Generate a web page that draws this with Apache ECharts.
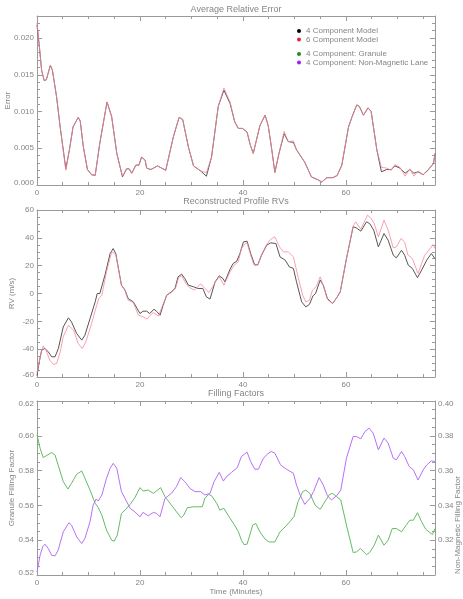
<!DOCTYPE html>
<html><head><meta charset="utf-8">
<script src="https://cdn.jsdelivr.net/npm/echarts@6/dist/echarts.min.js"></script>
<style>html,body{margin:0;padding:0;background:#fff}#c{width:463px;height:599px}</style>
</head><body><div id="c"></div>
<script>
// ---------- DATA ----------
const timeTicks = [0, 20, 40, 60];
const timeMax = 77.3;
const errTicks = [0, 0.005, 0.010, 0.015, 0.020];
const rvTicks = [-60, -40, -20, 0, 20, 40, 60];
const granTicks = [0.52, 0.54, 0.56, 0.58, 0.60, 0.62];
const nonMagTicks = [0.32, 0.34, 0.36, 0.38, 0.40];
const titles = ['Average Relative Error', 'Reconstructed Profile RVs', 'Filling Factors'];
const legendNames = ['4 Component Model', '6 Component Model', '4 Component: Granule', '4 Component: Non-Magnetic Lane'];

const errTime = [0,0.45,0.9,1.4,1.8,2.6,3.0,3.8,4.5,5.6,6.3,7.0,8.0,8.4,9.0,9.8,10.6,11.3,12.2,13.6,14.5,15.5,16.6,17.4,17.9,18.4,19.2,19.8,20.3,21.0,21.3,22.1,23.4,25.0,26.5,27.6,28.3,29.4,30.4,31.8,32.9,33.9,35.2,36.3,37.5,38.4,39.1,39.9,40.8,41.4,42.0,43.3,44.3,44.9,45.6,46.2,47.0,48.0,48.8,49.8,50.4,52.0,53.3,54.6,55.3,56.3,57.5,58.3,59.2,60.5,61.2,62.1,62.6,63.4,64.3,64.9,66.0,66.9,67.9,68.8,69.5,70.5,71.5,72.4,73.2,74.0,75.0,76.0,77.0,77.3];
const err4 = [0.0218,0.0189,0.0156,0.0142,0.0143,0.0163,0.0156,0.0120,0.0079,0.0022,0.0048,0.0079,0.0092,0.0087,0.0052,0.0021,0.0014,0.0013,0.0057,0.0113,0.0093,0.0043,0.0011,0.0022,0.0022,0.0016,0.0027,0.0027,0.0038,0.0034,0.0023,0.0021,0.0026,0.0020,0.0066,0.0092,0.0089,0.0052,0.0026,0.0019,0.0012,0.0038,0.0107,0.0129,0.0111,0.0086,0.0077,0.0077,0.0072,0.0055,0.0043,0.0081,0.0095,0.0081,0.0048,0.0017,0.0043,0.0070,0.0059,0.0058,0.0048,0.0031,0.0011,0.0007,0.0004,0.0010,0.0010,0.0013,0.0027,0.0079,0.0093,0.0109,0.0107,0.0095,0.0105,0.0100,0.0048,0.0018,0.0021,0.0021,0.0026,0.0023,0.0016,0.0021,0.0016,0.0018,0.0014,0.0021,0.0029,0.0043];
const err6 = [0.0221,0.0189,0.0156,0.0142,0.0143,0.0163,0.0156,0.0120,0.0079,0.0020,0.0048,0.0079,0.0092,0.0087,0.0052,0.0021,0.0014,0.0013,0.0057,0.0113,0.0093,0.0043,0.0012,0.0022,0.0022,0.0016,0.0027,0.0027,0.0038,0.0034,0.0023,0.0021,0.0026,0.0020,0.0066,0.0092,0.0089,0.0052,0.0026,0.0019,0.0017,0.0038,0.0107,0.0132,0.0113,0.0086,0.0077,0.0077,0.0072,0.0055,0.0043,0.0081,0.0095,0.0081,0.0048,0.0017,0.0043,0.0073,0.0059,0.0060,0.0048,0.0031,0.0011,0.0007,0.0004,0.0010,0.0010,0.0013,0.0027,0.0079,0.0093,0.0109,0.0107,0.0095,0.0105,0.0100,0.0048,0.0024,0.0023,0.0020,0.0028,0.0024,0.0012,0.0022,0.0012,0.0019,0.0014,0.0020,0.0030,0.0043];

const rvTime4 = [0,0.45,0.9,1.55,2.2,2.85,3.5,4.15,5.1,6.1,6.7,7.7,8.7,9.3,10.3,11.3,11.7,12.2,13.2,14.2,14.8,15.3,16.4,17.1,17.7,18.7,20.0,20.6,21.3,21.9,22.7,23.2,23.9,24.5,25.2,26.1,26.8,27.4,28.1,28.7,29.4,30.4,31.3,32.2,32.9,33.6,34.6,35.4,36.1,36.5,37.5,38.1,38.8,39.4,40.1,40.8,41.5,42.3,42.9,43.6,44.6,45.4,46.4,47.2,48.2,49.0,49.8,50.4,51.4,52.2,52.9,53.6,54.1,55.0,55.6,56.4,57.4,58.2,58.9,60.1,61.4,62.0,62.9,64.0,64.6,65.4,66.3,67.4,68.2,69.2,69.8,70.8,71.4,72.1,72.9,73.9,74.7,75.7,76.6,77.3];
const rv4 = [-59,-49,-40.7,-39.5,-42,-45.5,-45.5,-39.5,-24,-17.5,-20.4,-28.7,-33.5,-30,-18,-6,0,0,13.2,28.7,32.3,28.7,6,2.4,-3.6,-6,-14.4,-12.7,-12.7,-14.4,-11.3,-12.7,-15.6,-8.4,-1.2,1.2,3.6,12,13.9,10.8,6,4.8,3.6,3.6,-2.4,-4,8.4,12.7,10.8,8.4,17.5,21.6,23.2,28.7,37.1,37.6,28.7,20.4,20.8,27.5,34.7,36.4,35.9,26.3,24,19.2,18,8.4,-6,-9.6,-7.9,-1.7,0,9.6,6,-3.6,-7.2,-3.1,1.2,25,47.9,47.2,44.8,51.5,50.3,45.5,33.5,43.1,38.3,27.5,25.6,31.1,27.5,20.4,18,11.3,16.8,24,28.7,25];
const rvTime6 = [0,0.6,1.2,1.75,2.5,3.2,3.8,4.5,5.1,6.1,6.4,7.1,8.0,8.8,9.5,10.6,11.6,12.0,12.6,13.5,14.5,14.8,15.3,16.4,17.1,17.7,18.7,19.7,20.6,21.4,22.0,22.6,23.6,24.2,25.2,26.1,26.9,27.5,28.1,28.9,29.7,30.6,31.8,32.6,33.4,34.1,34.6,35.4,36.3,37.5,38.3,39.1,39.7,40.4,40.8,41.4,42.1,42.9,43.6,44.6,45.4,46.2,47.1,47.9,48.8,49.8,50.7,51.6,52.2,52.9,53.5,54.2,55.0,55.7,56.4,57.4,58.2,58.9,60.1,61.4,61.9,62.9,64.2,64.8,65.5,66.3,67.4,68.2,69.2,69.8,70.7,71.4,72.0,72.9,74.0,75.3,76.1,76.9,77.3];
const rv6 = [-57,-45.5,-37.6,-40.7,-48,-51,-50.3,-42,-31,-22.8,-21.6,-26.3,-36,-39.5,-34.7,-21.6,-8.4,-3.6,-1.2,15.6,30,31,28,6,2,-4.8,-6.5,-15.6,-16.8,-18.4,-15.6,-13.7,-16.3,-10.3,-1.2,0.7,3.6,11.3,12.7,7.2,4.1,2.4,7,3.6,0.7,4.8,8,12,6,15.6,20.4,22.8,32.3,35.9,36.4,28.7,20.8,20.4,27.5,35.2,39,40.7,33.5,29.9,29.9,26.3,12,-1.2,-6,-4.8,2.4,4.8,12,4.8,-4.3,-7.2,-3.1,1.2,25,48.6,51.5,46.2,56.3,54.4,50.3,40.7,52.7,45.5,32.8,33.5,39.5,37.1,28,25.1,14.4,27.5,31.1,35.2,32.3];

const granTime = [0,0.6,1.2,1.9,2.85,3.5,4.1,5.1,6.0,6.7,7.7,8.7,9.3,10.3,11.3,11.9,12.6,13.5,14.5,15.0,15.6,16.4,17.1,18.1,19.0,20.0,20.6,21.6,22.6,23.2,24.0,24.85,26.1,27.1,28.0,28.5,29.2,30.4,31.3,32.1,32.6,33.3,33.9,34.9,35.5,36.3,37.3,38.3,39.1,39.7,40.2,40.8,41.9,42.5,43.3,44.3,45.1,46.2,47.2,48.2,49.1,49.9,50.7,51.6,52.2,53.0,54.0,55.0,55.9,56.8,57.4,58.2,59.0,60.1,61.4,62.1,62.8,64.0,64.6,65.5,66.3,67.4,68.2,69.0,69.8,70.8,71.8,72.4,73.1,73.9,74.7,75.5,76.3,76.8,77.3];
const granule = [0.6006,0.5929,0.5875,0.5887,0.5904,0.5890,0.5833,0.5737,0.5694,0.5727,0.5779,0.5798,0.5756,0.5688,0.5612,0.5587,0.5544,0.5458,0.5400,0.5394,0.5429,0.5554,0.5573,0.5606,0.5644,0.5702,0.5683,0.5688,0.5669,0.5683,0.5702,0.5650,0.5602,0.5563,0.5529,0.5544,0.5587,0.5592,0.5592,0.5592,0.5640,0.5663,0.5656,0.5612,0.5573,0.5583,0.5535,0.5490,0.5450,0.5400,0.5375,0.5377,0.5487,0.5496,0.5448,0.5406,0.5390,0.5390,0.5448,0.5477,0.5506,0.5535,0.5621,0.5679,0.5688,0.5669,0.5602,0.5577,0.5621,0.5663,0.5669,0.5650,0.5631,0.5487,0.5329,0.5333,0.5352,0.5317,0.5329,0.5371,0.5429,0.5371,0.5400,0.5467,0.5467,0.5448,0.5490,0.5515,0.5515,0.5558,0.5506,0.5463,0.5444,0.5433,0.5467];
const nonMagTime = [0,0.6,1.1,1.55,2.2,2.85,3.5,4.1,5.1,6.2,6.7,7.7,8.7,9.3,10.3,10.9,11.5,11.9,12.6,13.5,14.2,14.8,15.5,16.4,17.1,18.1,19.0,20.0,20.6,21.6,22.6,23.2,23.9,24.85,26.1,27.1,27.9,28.7,29.7,30.7,31.8,32.6,33.6,34.4,35.4,36.2,36.8,37.8,38.9,39.7,40.8,41.5,42.3,43.0,43.9,44.7,45.5,46.2,47.3,48.2,49.0,49.8,50.4,51.1,52.0,53.0,53.7,54.8,55.6,56.4,57.2,58.2,59.0,60.1,61.4,62.0,62.9,63.7,64.5,65.3,66.3,67.4,68.2,69.2,69.8,70.8,71.4,72.3,73.1,74.0,75.0,75.7,76.6,77.3];
const nonMag = [0.3017,0.3113,0.3162,0.3177,0.3152,0.3113,0.3110,0.3142,0.3248,0.3300,0.3287,0.3219,0.3181,0.3210,0.3306,0.3402,0.3437,0.3425,0.3460,0.3556,0.3613,0.3642,0.3613,0.3479,0.3440,0.3383,0.3363,0.3335,0.3360,0.3340,0.3360,0.3354,0.3335,0.3440,0.3469,0.3508,0.3560,0.3537,0.3498,0.3479,0.3479,0.3460,0.3469,0.3537,0.3590,0.3540,0.3565,0.3590,0.3617,0.3681,0.3706,0.3652,0.3608,0.3608,0.3667,0.3694,0.3710,0.3700,0.3633,0.3613,0.3598,0.3585,0.3517,0.3460,0.3406,0.3440,0.3479,0.3560,0.3517,0.3456,0.3431,0.3456,0.3488,0.3671,0.3796,0.3796,0.3783,0.3825,0.3844,0.3815,0.3719,0.3787,0.3758,0.3671,0.3662,0.3710,0.3681,0.3623,0.3604,0.3546,0.3604,0.3633,0.3656,0.3652];

// ---------- STYLE / BUILD ----------
const GRAY = '#9a9a9a', TXT = '#858585', FF = 'Liberation Sans';
function steps(a, b, s) { const r = []; const n = Math.round((b - a) / s); for (let i = 0; i <= n; i++) r.push(+(a + i * s).toFixed(6)); return r; }
function zip(t, v) { return t.map((x, i) => [x, v[i]]); }
const rich = {
  lo: { padding: [0, 0, 5, 0], color: TXT, fontSize: 8, fontFamily: FF },
  hi: { padding: [5, 0, 0, 0], color: TXT, fontSize: 8, fontFamily: FF }
};
function axis(g, pos, min, max, ticks, len, lineShow, label, extra) {
  const o = {
    type: 'value', gridIndex: g, position: pos, min: min, max: max, silent: true,
    nameMoveOverlap: false,
    splitLine: { show: false },
    axisLine: { show: lineShow, onZero: false, lineStyle: { color: GRAY, width: 1 } },
    axisTick: { show: true, inside: true, length: len, customValues: ticks, lineStyle: { color: GRAY, width: 1 } },
    axisLabel: { show: false }
  };
  if (label) {
    o.axisLabel = { show: true, color: TXT, fontSize: 8, fontFamily: FF, margin: label.margin,
      customValues: label.values, formatter: label.fmt, rich: rich };
  }
  return Object.assign(o, extra || {});
}
const gridBase = { left: 37, right: 28, containLabel: false, outerBoundsMode: 'none' };
const grids = [
  Object.assign({ top: 16, height: 169 }, gridBase),
  Object.assign({ top: 210, height: 167 }, gridBase),
  Object.assign({ top: 401, height: 174 }, gridBase)
];
const nameStyle = { color: TXT, fontSize: 8, fontFamily: FF };
const xAxes = [], yAxes = [];
const xMinor = steps(0, 75, 5);
for (let g = 0; g < 3; g++) {
  const xExtra = g === 2 ? { name: 'Time (Minutes)', nameLocation: 'middle', nameGap: 13, nameTextStyle: nameStyle } : {};
  xAxes.push(axis(g, 'bottom', 0, timeMax, timeTicks, 5, true, { margin: 4, values: timeTicks, fmt: v => String(v) }, xExtra));
  xAxes.push(axis(g, 'bottom', 0, timeMax, xMinor, 3, false));
  xAxes.push(axis(g, 'top', 0, timeMax, timeTicks, 5, true));
  xAxes.push(axis(g, 'top', 0, timeMax, xMinor, 3, false));
}
// panel 0: error
const errFmt = v => Math.abs(v) < 1e-9 ? '{lo|' + v.toFixed(3) + '}' : v.toFixed(3);
yAxes.push(axis(0, 'left', 0, 0.023, errTicks, 5, true, { margin: 3, values: errTicks, fmt: errFmt },
  { name: 'Error', nameLocation: 'middle', nameRotate: 90, nameGap: 25, nameTextStyle: nameStyle }));
yAxes.push(axis(0, 'left', 0, 0.023, steps(0, 0.023, 0.001), 3, false));
yAxes.push(axis(0, 'right', 0, 0.023, errTicks, 5, true));
yAxes.push(axis(0, 'right', 0, 0.023, steps(0, 0.023, 0.001), 3, false));
// panel 1: RV
const rvFmt = v => v === -60 ? '{lo|' + v + '}' : String(v);
yAxes.push(axis(1, 'left', -60, 60, rvTicks, 5, true, { margin: 3, values: rvTicks, fmt: rvFmt },
  { name: 'RV (m/s)', nameLocation: 'middle', nameRotate: 90, nameGap: 21, nameTextStyle: nameStyle }));
yAxes.push(axis(1, 'left', -60, 60, steps(-60, 60, 5), 3, false));
yAxes.push(axis(1, 'right', -60, 60, rvTicks, 5, true));
yAxes.push(axis(1, 'right', -60, 60, steps(-60, 60, 5), 3, false));
// panel 2: filling factors
const granFmt = v => Math.abs(v - 0.52) < 1e-9 ? '{lo|' + v.toFixed(2) + '}' : (Math.abs(v - 0.62) < 1e-9 ? '{hi|' + v.toFixed(2) + '}' : v.toFixed(2));
const nmFmt = v => Math.abs(v - 0.40) < 1e-9 ? '{hi|' + v.toFixed(2) + '}' : v.toFixed(2);
yAxes.push(axis(2, 'left', 0.52, 0.62, granTicks, 5, true, { margin: 3, values: granTicks, fmt: granFmt },
  { name: 'Granule Filling Factor', nameLocation: 'middle', nameRotate: 90, nameGap: 21, nameTextStyle: nameStyle }));
yAxes.push(axis(2, 'left', 0.52, 0.62, steps(0.52, 0.62, 0.005), 3, false));
yAxes.push(axis(2, 'right', 0.30, 0.40, steps(0.30, 0.40, 0.02), 5, true, { margin: 3, values: nonMagTicks, fmt: nmFmt },
  { name: 'Non-Magnetic Filling Factor', nameLocation: 'middle', nameRotate: 90, nameGap: 19,
    nameTextStyle: Object.assign({ padding: [0, 74, 0, 0] }, nameStyle) }));
yAxes.push(axis(2, 'right', 0.30, 0.40, steps(0.30, 0.40, 0.005), 3, false));

const C4 = '#555555', C6 = '#f7889c', CG = '#66bb66', CP = '#b870f8';
function line(name, xi, yi, data, color, z, op) {
  return { type: 'line', name: name, xAxisIndex: xi, yAxisIndex: yi, data: data, symbol: 'none', showSymbol: false,
    lineStyle: { width: 1, color: color, opacity: op || 1 }, itemStyle: { color: color }, z: z, silent: true, animation: false };
}
const legendBase = {
  orient: 'vertical', left: 297, itemWidth: 4, itemHeight: 4, itemGap: 0.5, padding: 0, icon: 'circle',
  selectedMode: false, itemStyle: { borderWidth: 0 },
  textStyle: { color: TXT, fontSize: 8, fontFamily: FF, lineHeight: 8 }
};
const option = {
  animation: false,
  backgroundColor: '#fff',
  title: titles.map((t, i) => ({
    text: t, left: 236, top: [5, 197, 389][i], textAlign: 'center', padding: 0,
    textStyle: { fontSize: 9, fontWeight: 'normal', color: TXT, fontFamily: FF }
  })),
  legend: [
    Object.assign({}, legendBase, { top: 27, data: [
      { name: legendNames[0], itemStyle: { color: '#000' } },
      { name: legendNames[1], itemStyle: { color: '#e8203c' } }] }),
    Object.assign({}, legendBase, { top: 50, data: [
      { name: legendNames[2], itemStyle: { color: '#228b22' } },
      { name: legendNames[3], itemStyle: { color: '#a020f0' } }] })
  ],
  grid: grids,
  xAxis: xAxes,
  yAxis: yAxes,
  series: [
    line(legendNames[0], 0, 0, zip(errTime, err4), C4, 2),
    line(legendNames[1], 0, 0, zip(errTime, err6), C6, 3, 0.8),
    line(legendNames[0], 4, 4, zip(rvTime4, rv4), C4, 2),
    line(legendNames[1], 4, 4, zip(rvTime6, rv6), C6, 3, 0.8),
    line(legendNames[2], 8, 8, zip(granTime, granule), CG, 2),
    line(legendNames[3], 8, 10, zip(nonMagTime, nonMag), CP, 3)
  ]
};
const chart = echarts.init(document.getElementById('c'), null, { renderer: 'canvas' });
chart.setOption(option);
</script>
</body></html>
